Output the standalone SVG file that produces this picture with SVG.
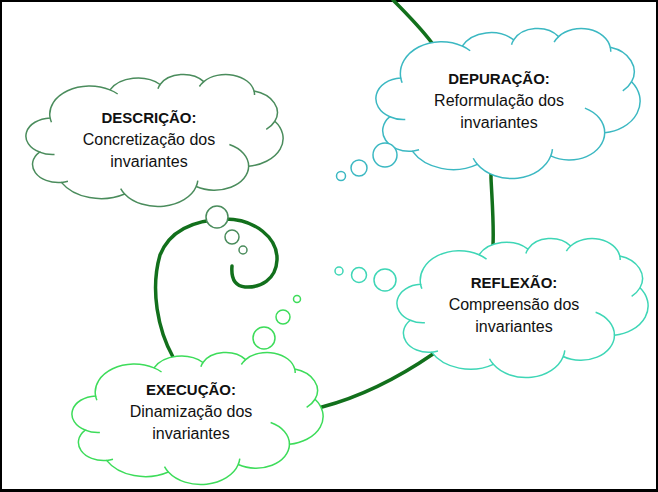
<svg xmlns="http://www.w3.org/2000/svg" xmlns:xlink="http://www.w3.org/1999/xlink" width="658" height="492" viewBox="0 0 658 492">
<style>
.body{fill:#fff;vector-effect:non-scaling-stroke;stroke-width:1.5}
.crease{fill:none;vector-effect:non-scaling-stroke;stroke-width:1.5}
.bub{fill:#fff;stroke-width:1.5}
.t{font-family:"Liberation Sans",Arial,sans-serif;font-size:16px;fill:#111;text-anchor:middle}
.h{font-weight:bold;font-size:15px}
.spiral{fill:none;stroke:#12701c;stroke-width:3.5;stroke-linecap:round}
.c1{stroke:#4a8c5c}.c2{stroke:#3bb8c2}.c3{stroke:#3ed6b6}.c4{stroke:#3ddc5a}
</style>
<defs>
<g id="cloud">
<path class="body" d="M39,143.7 A67.53,91.9 0 0 1 140.06,52.01 A53.33,72.67 0 0 1 224.59,34.34 A43.65,59.45 0 0 1 298.34,24.81 A48.57,65.95 0 0 1 383.19,55.75 A53.33,72.73 0 0 1 418.19,154.61 A67.75,92.2 0 0 1 374.03,302.03 A57.85,78.67 0 0 1 285.54,368.13 A67.52,92.15 0 0 1 164.79,392.65 A77.2,105.43 0 0 1 58.02,354.7 A43.6,59.18 0 0 1 21.11,255.47 A43.45,59.45 0 0 1 39,143.7 Z"/>
<path class="crease" d="M46.45,263.45 A43.45,59.45 0 0 1 21.11,255.47 M69.09,350.89 A43.6,59.18 0 0 1 58.02,354.7 M164.79,392.65 A67.52,92.15 0 0 1 158.09,375.22 M288.21,349.02 A67.52,92.15 0 0 1 285.54,368.13 M341.5,230.68 A57.85,78.67 0 0 1 374.03,302.03 M418.19,154.61 A53.33,72.73 0 0 1 403.71,181.35 M383.19,55.75 A48.57,65.95 0 0 1 383.96,68.39 M290.92,40.94 A48.57,65.95 0 0 1 298.34,24.81 M220.99,48.24 A43.65,59.45 0 0 1 224.59,34.34 M140.06,52.01 A67.53,91.9 0 0 1 153.04,65.45 M41.27,157.87 A67.53,91.9 0 0 1 39,143.7"/>
</g>
</defs>
<rect x="0" y="0" width="658" height="492" fill="#000"/>
<rect x="2" y="2" width="654" height="487" fill="#fff"/>
<g id="connectors">
<path class="spiral" d="M393,0 C405,12 420,27 432,43 C470,95 492,140 491,178 C492,200 494,225 493,245 C492,300 470,335 433,354 C398,378 360,397 322,407 C270,420 200,400 173,357 C158,330 150,290 160,255 C170,230 195,220 225,219 C255,219 278,238 277,260 C276,280 260,288 245,287 C235,286 231,278 232,266"/>
</g>
<g id="descricao">
<use xlink:href="#cloud" class="c1" transform="translate(27,74) scale(0.5926,0.3056)"/>
<circle class="bub c1" cx="217" cy="217" r="11"/>
<circle class="bub c1" cx="232" cy="237" r="7"/>
<circle class="bub c1" cx="243" cy="250" r="4"/>
<text class="t h" x="149" y="123">DESCRIÇÃO:</text>
<text class="t" x="149" y="145">Concretização dos</text>
<text class="t" x="149" y="167">invariantes</text>
</g>
<g id="depuracao">
<use xlink:href="#cloud" class="c2" transform="translate(377,28) scale(0.6088,0.3472)"/>
<circle class="bub c2" cx="385" cy="155" r="12"/>
<circle class="bub c2" cx="359" cy="168" r="8"/>
<circle class="bub c2" cx="341" cy="176" r="4.5"/>
<text class="t h" x="499" y="84">DEPURAÇÃO:</text>
<text class="t" x="499" y="106">Reformulação dos</text>
<text class="t" x="499" y="128">invariantes</text>
</g>
<g id="reflexao">
<use xlink:href="#cloud" class="c3" transform="translate(398,238) scale(0.5787,0.3218)"/>
<circle class="bub c3" cx="385" cy="280" r="11"/>
<circle class="bub c3" cx="359" cy="275" r="7.5"/>
<circle class="bub c3" cx="339" cy="271" r="4"/>
<text class="t h" x="514" y="288">REFLEXÃO:</text>
<text class="t" x="514" y="310">Compreensão dos</text>
<text class="t" x="514" y="332">invariantes</text>
</g>
<g id="execucao">
<use xlink:href="#cloud" class="c4" transform="translate(73,352) scale(0.5787,0.3056)"/>
<circle class="bub c4" cx="264" cy="338" r="11"/>
<circle class="bub c4" cx="283" cy="317" r="7"/>
<circle class="bub c4" cx="297" cy="299" r="3.5"/>
<text class="t h" x="191" y="395">EXECUÇÃO:</text>
<text class="t" x="191" y="417">Dinamização dos</text>
<text class="t" x="191" y="439">invariantes</text>
</g>
</svg>
